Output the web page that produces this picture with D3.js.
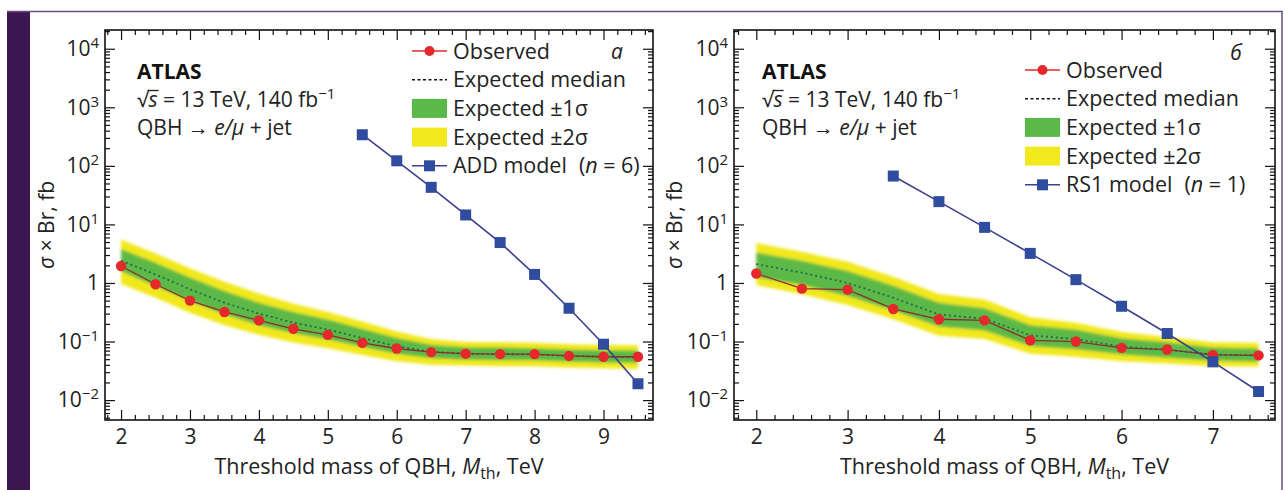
<!DOCTYPE html>
<html>
<head>
<meta charset="utf-8">
<script src="https://cdn.jsdelivr.net/npm/d3@7"></script>
<style>
  body { margin: 0; background: #fff; }
  svg { display: block; font-family: "Open Sans", "Noto Sans", sans-serif; }
</style>
</head>
<body>
<svg id="chart" width="1288" height="490"></svg>
<script>
// ---- Panel а: ADD model (n = 6) ----
const massA      = [2, 2.5, 3, 3.5, 4, 4.5, 5, 5.5, 6, 6.5, 7, 7.5, 8, 8.5, 9, 9.5];
const observedA  = [1.95, 0.95, 0.50, 0.32, 0.23, 0.165, 0.13, 0.095, 0.076, 0.066, 0.062, 0.061, 0.061, 0.057, 0.055, 0.055];
const expectedA  = [2.4, 1.4, 0.78, 0.46, 0.30, 0.21, 0.16, 0.115, 0.083, 0.067, 0.062, 0.061, 0.060, 0.057, 0.055, 0.054];
const sig1LoA    = [1.59, 0.88, 0.49, 0.29, 0.19, 0.139, 0.108, 0.081, 0.062, 0.052, 0.049, 0.048, 0.048, 0.045, 0.044, 0.043];
const sig1HiA    = [3.8, 2.22, 1.24, 0.73, 0.46, 0.32, 0.237, 0.166, 0.115, 0.088, 0.080, 0.079, 0.077, 0.073, 0.071, 0.070];
const sig2LoA    = [0.96, 0.56, 0.31, 0.19, 0.13, 0.096, 0.077, 0.059, 0.046, 0.040, 0.039, 0.038, 0.038, 0.036, 0.035, 0.034];
const sig2HiA    = [5.5, 3.2, 1.79, 1.05, 0.66, 0.44, 0.32, 0.219, 0.148, 0.111, 0.098, 0.097, 0.095, 0.090, 0.087, 0.086];
const modelMassA = [5.5, 6, 6.5, 7, 7.5, 8, 8.5, 9, 9.5];
const modelA     = [340, 122, 43, 14.5, 4.9, 1.4, 0.37, 0.09, 0.019];
const xTicksA    = [2, 3, 4, 5, 6, 7, 8, 9];

// ---- Panel б: RS1 model (n = 1) ----
const massB      = [2, 2.5, 3, 3.5, 4, 4.5, 5, 5.5, 6, 6.5, 7, 7.5];
const observedB  = [1.45, 0.80, 0.77, 0.36, 0.24, 0.23, 0.105, 0.10, 0.078, 0.073, 0.059, 0.058];
const expectedB  = [2.1, 1.5, 1.0, 0.56, 0.29, 0.245, 0.128, 0.11, 0.082, 0.072, 0.060, 0.058];
const sig1LoB    = [1.25, 0.92, 0.60, 0.34, 0.18, 0.155, 0.084, 0.074, 0.060, 0.053, 0.047, 0.045];
const sig1HiB    = [3.3, 2.4, 1.6, 0.90, 0.46, 0.37, 0.19, 0.16, 0.114, 0.097, 0.079, 0.076];
const sig2LoB    = [0.92, 0.64, 0.42, 0.24, 0.125, 0.11, 0.062, 0.055, 0.046, 0.042, 0.038, 0.037];
const sig2HiB    = [4.8, 3.4, 2.3, 1.28, 0.65, 0.52, 0.26, 0.21, 0.145, 0.12, 0.097, 0.094];
const modelMassB = [3.5, 4, 4.5, 5, 5.5, 6, 6.5, 7, 7.5];
const modelB     = [67, 24.5, 8.9, 3.2, 1.14, 0.40, 0.137, 0.045, 0.014];
const xTicksB    = [2, 3, 4, 5, 6, 7];

// shared
const yExponents = [-2, -1, 0, 1, 2, 3, 4];
const legendLabels = ["Observed", "Expected median", "Expected \u00B11\u03C3", "Expected \u00B12\u03C3"];

const C = {
  red: "#e5282b", redLine: "#8c2e2e", blue: "#2f4c9f", blueLine: "#3b3f8c",
  green: "#5db947", yellow: "#f1e81d", median: "#1f6a50", purple: "#3d1752", frame: "#6a4d7c"
};
const FS = 21;

const svg = d3.select("#chart");

// page frame
svg.append("rect").attr("x", 7).attr("y", 11).attr("width", 23).attr("height", 479).attr("fill", C.purple);
svg.append("line").attr("x1", 7).attr("x2", 1282.5).attr("y1", 11.5).attr("y2", 11.5)
  .attr("stroke", C.frame).attr("stroke-width", 1.5);
svg.append("line").attr("x1", 1282).attr("x2", 1282).attr("y1", 11).attr("y2", 490)
  .attr("stroke", C.frame).attr("stroke-width", 1.5);

const defs = svg.append("defs");
defs.append("filter").attr("id", "soft").attr("x", "-5%").attr("y", "-20%").attr("width", "110%").attr("height", "140%")
  .append("feGaussianBlur").attr("stdDeviation", 1.6);

const yTop = 30, yBot = 420;
const y = d3.scaleLog().domain([Math.pow(10, -2.34), Math.pow(10, 4.32)]).range([yBot, yTop]);

function drawPanel(p) {
  const x = d3.scaleLinear().domain(p.xDomain).range([p.left, p.right]);
  const g = svg.append("g");

  // clip to plot area
  const clipId = "clip" + p.id;
  defs.append("clipPath").attr("id", clipId).append("rect")
    .attr("x", p.left).attr("y", yTop).attr("width", p.right - p.left).attr("height", yBot - yTop);
  const plot = g.append("g").attr("clip-path", `url(#${clipId})`);

  const rows = p.mass.map((m, i) => ({
    m, obs: p.observed[i], exp: p.expected[i],
    s1lo: p.sig1Lo[i], s1hi: p.sig1Hi[i], s2lo: p.sig2Lo[i], s2hi: p.sig2Hi[i]
  }));

  const bands = plot.append("g").attr("filter", "url(#soft)");
  bands.append("path").datum(rows).attr("fill", C.yellow)
    .attr("d", d3.area().x(d => x(d.m)).y0(d => y(d.s2lo)).y1(d => y(d.s2hi)));
  bands.append("path").datum(rows).attr("fill", C.green)
    .attr("d", d3.area().x(d => x(d.m)).y0(d => y(d.s1lo)).y1(d => y(d.s1hi)));

  plot.append("path").datum(rows).attr("fill", "none").attr("stroke", C.median)
    .attr("stroke-width", 1.8).attr("stroke-dasharray", "2,3")
    .attr("d", d3.line().x(d => x(d.m)).y(d => y(d.exp)));

  plot.append("path").datum(rows).attr("fill", "none").attr("stroke", C.redLine).attr("stroke-width", 1.3)
    .attr("d", d3.line().x(d => x(d.m)).y(d => y(d.obs)));

  const model = p.modelMass.map((m, i) => ({ m, v: p.model[i] }));
  plot.append("path").datum(model).attr("fill", "none").attr("stroke", C.blueLine).attr("stroke-width", 1.6)
    .attr("d", d3.line().x(d => x(d.m)).y(d => y(d.v)));

  plot.selectAll("circle.obs").data(rows).join("circle").attr("class", "obs")
    .attr("cx", d => x(d.m)).attr("cy", d => y(d.obs)).attr("r", 5.2).attr("fill", C.red);

  plot.selectAll("rect.mod").data(model).join("rect").attr("class", "mod")
    .attr("x", d => x(d.m) - 5.5).attr("y", d => y(d.v) - 5.5).attr("width", 11).attr("height", 11)
    .attr("fill", C.blue);

  // ---- axes ----
  const xMinor = d3.range(Math.ceil(p.xDomain[0] * 5), Math.floor(p.xDomain[1] * 5) + 1).map(k => k / 5)
    .filter(v => Math.abs(v - Math.round(v)) > 1e-6);
  const yMajor = yExponents.map(e => Math.pow(10, e));
  const yMinor = [];
  for (let e = -3; e <= 4; e++) for (let k = 2; k <= 9; k++) {
    const v = k * Math.pow(10, e);
    if (v > y.domain()[0] && v < y.domain()[1]) yMinor.push(v);
  }

  const styleAxis = sel => {
    sel.select(".domain").remove();
    sel.selectAll(".tick line").attr("stroke", "#111").attr("stroke-width", 1.2);
    sel.selectAll("text").attr("font-size", FS).attr("fill", "#222").attr("font-family", "Open Sans");
  };

  // bottom
  g.append("g").attr("transform", `translate(0,${yBot})`)
    .call(d3.axisBottom(x).tickValues(p.xTicks).tickSize(-10).tickPadding(9).tickFormat(d3.format("d")))
    .call(styleAxis);
  g.append("g").attr("transform", `translate(0,${yBot})`)
    .call(d3.axisBottom(x).tickValues(xMinor).tickSize(-5).tickFormat("")).call(styleAxis);
  // top
  g.append("g").attr("transform", `translate(0,${yTop})`)
    .call(d3.axisTop(x).tickValues(p.xTicks).tickSize(-10).tickFormat("")).call(styleAxis);
  g.append("g").attr("transform", `translate(0,${yTop})`)
    .call(d3.axisTop(x).tickValues(xMinor).tickSize(-5).tickFormat("")).call(styleAxis);
  // left
  const yl = g.append("g").attr("transform", `translate(${p.left},0)`)
    .call(d3.axisLeft(y).tickValues(yMajor).tickSize(-10).tickPadding(6)).call(styleAxis);
  g.append("g").attr("transform", `translate(${p.left},0)`)
    .call(d3.axisLeft(y).tickValues(yMinor).tickSize(-5).tickFormat("")).call(styleAxis);
  // right
  g.append("g").attr("transform", `translate(${p.right},0)`)
    .call(d3.axisRight(y).tickValues(yMajor).tickSize(-10).tickFormat("")).call(styleAxis);
  g.append("g").attr("transform", `translate(${p.right},0)`)
    .call(d3.axisRight(y).tickValues(yMinor).tickSize(-5).tickFormat("")).call(styleAxis);

  // power-of-ten labels
  yl.selectAll(".tick text").each(function (d) {
    const t = d3.select(this).text(null);
    const e = Math.round(Math.log10(d));
    if (e === 0) { t.append("tspan").text("1"); return; }
    t.append("tspan").text("10");
    t.append("tspan").attr("font-size", 15).attr("dy", -8)
      .text(e < 0 ? "\u2212" + (-e) : String(e));
  });

  // frame
  g.append("rect").attr("x", p.left).attr("y", yTop).attr("width", p.right - p.left).attr("height", yBot - yTop)
    .attr("fill", "none").attr("stroke", "#111").attr("stroke-width", 1.6);

  // axis titles
  const xt = g.append("text").attr("x", (p.left + p.right) / 2).attr("y", 474)
    .attr("text-anchor", "middle").attr("font-size", FS + 0.5).attr("fill", "#222");
  xt.append("tspan").text("Threshold mass of QBH, ");
  xt.append("tspan").attr("font-style", "italic").text("M");
  xt.append("tspan").attr("font-size", 16).attr("dy", 5).text("th");
  xt.append("tspan").attr("dy", -5).text(", TeV");

  const yt = g.append("text").attr("transform", `translate(${p.yTitleX},${(yTop + yBot) / 2}) rotate(-90)`)
    .attr("text-anchor", "middle").attr("font-size", FS).attr("fill", "#222");
  yt.append("tspan").attr("font-style", "italic").text("\u03C3");
  yt.append("tspan").text(" \u00D7 Br, fb");

  // experiment labels
  const ax = p.annX;
  g.append("text").attr("x", ax).attr("y", 79).attr("font-size", FS).attr("font-weight", "bold")
    .attr("fill", "#111").text("ATLAS");
  const s1 = g.append("text").attr("x", ax).attr("y", 107).attr("font-size", FS).attr("fill", "#222");
  s1.append("tspan").text("\u221A");
  s1.append("tspan").attr("font-style", "italic").text("s");
  s1.append("tspan").text(" = 13 TeV, 140 fb");
  s1.append("tspan").attr("font-size", 15).attr("dy", -8).text("\u22121");
  // radical bar over the "s"
  const node = s1.node();
  const sStart = node.getStartPositionOfChar(1).x;
  const sEnd = node.getEndPositionOfChar(1).x;
  g.append("line").attr("x1", sStart - 1).attr("x2", sEnd + 1).attr("y1", 107 - 16.5).attr("y2", 107 - 16.5)
    .attr("stroke", "#222").attr("stroke-width", 1.3);
  const s2 = g.append("text").attr("x", ax).attr("y", 135).attr("font-size", FS).attr("fill", "#222");
  s2.append("tspan").text("QBH \u2192 ");
  s2.append("tspan").attr("font-style", "italic").text("e/\u03BC");
  s2.append("tspan").text(" + jet");

  // panel letter
  g.append("text").attr("x", p.letterX).attr("y", p.letterY).attr("font-size", 21).attr("font-style", "italic")
    .attr("text-anchor", "middle").attr("fill", "#222").text(p.letter);

  // legend
  const lg = g.append("g");
  const sx0 = p.legendX, sx1 = p.legendX + 35, tx = p.legendX + 41;
  const rowY = i => p.legendY + i * 28.7;
  lg.append("line").attr("x1", sx0).attr("x2", sx1).attr("y1", rowY(0)).attr("y2", rowY(0))
    .attr("stroke", C.red).attr("stroke-width", 1.5);
  lg.append("circle").attr("cx", (sx0 + sx1) / 2).attr("cy", rowY(0)).attr("r", 5).attr("fill", C.red);
  lg.append("line").attr("x1", sx0).attr("x2", sx1).attr("y1", rowY(1)).attr("y2", rowY(1))
    .attr("stroke", "#111").attr("stroke-width", 1.5).attr("stroke-dasharray", "3,2.5");
  lg.append("rect").attr("x", sx0).attr("y", rowY(2) - 9.5).attr("width", 35).attr("height", 19).attr("fill", C.green);
  lg.append("rect").attr("x", sx0).attr("y", rowY(3) - 9.5).attr("width", 35).attr("height", 19).attr("fill", C.yellow);
  lg.append("line").attr("x1", sx0).attr("x2", sx1).attr("y1", rowY(4)).attr("y2", rowY(4))
    .attr("stroke", C.blueLine).attr("stroke-width", 1.5);
  lg.append("rect").attr("x", (sx0 + sx1) / 2 - 5.5).attr("y", rowY(4) - 5.5).attr("width", 11).attr("height", 11)
    .attr("fill", C.blue);

  legendLabels.forEach((s, i) => {
    lg.append("text").attr("x", tx).attr("y", rowY(i)).attr("dy", "0.35em").attr("font-size", FS + 0.5)
      .attr("fill", "#222").text(s);
  });
  const ml = lg.append("text").attr("x", tx).attr("y", rowY(4)).attr("dy", "0.35em").attr("font-size", FS + 0.5).attr("fill", "#222");
  ml.append("tspan").text(p.modelName);
  ml.append("tspan").attr("dx", 12).text("(");
  ml.append("tspan").attr("font-style", "italic").text("n");
  ml.append("tspan").text(" = " + p.modelN + ")");
}

drawPanel({
  id: "A", left: 105, right: 653, xDomain: [1.767, 9.718], xTicks: xTicksA,
  mass: massA, observed: observedA, expected: expectedA,
  sig1Lo: sig1LoA, sig1Hi: sig1HiA, sig2Lo: sig2LoA, sig2Hi: sig2HiA,
  modelMass: modelMassA, model: modelA, modelName: "ADD model", modelN: 6,
  letter: "\u0430", letterX: 617, letterY: 59, legendX: 412, legendY: 51, yTitleX: 54, annX: 137
});

drawPanel({
  id: "B", left: 734, right: 1275, xDomain: [1.756, 7.68], xTicks: xTicksB,
  mass: massB, observed: observedB, expected: expectedB,
  sig1Lo: sig1LoB, sig1Hi: sig1HiB, sig2Lo: sig2LoB, sig2Hi: sig2HiB,
  modelMass: modelMassB, model: modelB, modelName: "RS1 model", modelN: 1,
  letter: "\u0431", letterX: 1236, letterY: 60, legendX: 1025, legendY: 70, yTitleX: 682, annX: 762
});
</script>
</body>
</html>
